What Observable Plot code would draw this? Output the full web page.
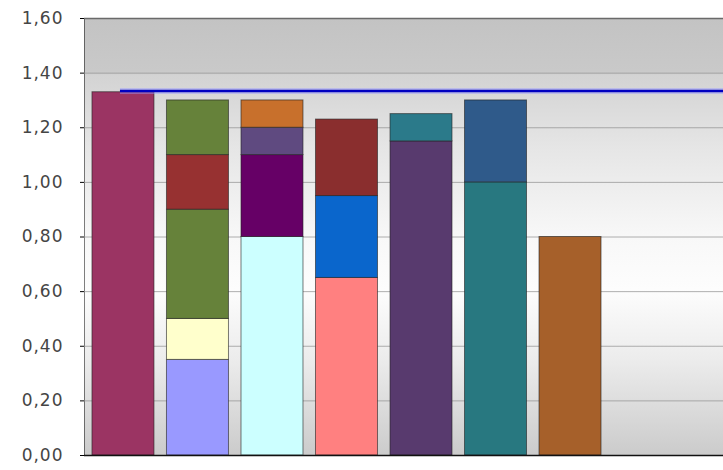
<!DOCTYPE html>
<html><head><meta charset="utf-8">
<script src="https://cdn.jsdelivr.net/npm/d3@7"></script>
<script src="https://cdn.jsdelivr.net/npm/@observablehq/plot@0.6"></script>
<style>
html,body{margin:0;padding:0;background:#fff;overflow:hidden}
</style>
</head><body><div id="chart"></div>
<script>
// categories (last two slots are empty, chart is cropped on the right)
const categories = ["A", "B", "C", "D", "E", "F", "G", "H", "I"];
// stacked segment values per bar (bottom to top)
const barA = [1.33];
const barB = [0.35, 0.15, 0.40, 0.20, 0.20];
const barC = [0.80, 0.30, 0.10, 0.10];
const barD = [0.65, 0.30, 0.28];
const barE = [1.15, 0.10];
const barF = [1.00, 0.30];
const barG = [0.80];
// segment colours per bar (bottom to top)
const colorsA = ["#9b3463"];
const colorsB = ["#9999ff", "#ffffcc", "#66823a", "#973131", "#66823a"];
const colorsC = ["#ccffff", "#660066", "#5f4a80", "#c8702c"];
const colorsD = ["#ff8080", "#0a66cc", "#8a2e2e"];
const colorsE = ["#583a6e", "#2b7a8a"];
const colorsF = ["#287880", "#2f5a8a"];
const colorsG = ["#a6602a"];
// reference line value
const targetValue = 1.335;
// y tick labels
const yTicks = [0, 0.2, 0.4, 0.6, 0.8, 1.0, 1.2, 1.4, 1.6];

const bars = [barA, barB, barC, barD, barE, barF, barG];
const colors = [colorsA, colorsB, colorsC, colorsD, colorsE, colorsF, colorsG];
const rows = [];
bars.forEach((vals, i) => vals.forEach((v, j) => rows.push({category: categories[i], value: v, color: colors[i][j]})));

const fmt = d => d3.format(".2f")(d).replace(".", ",");

const chart = Plot.plot({
  width: 723, height: 470,
  marginLeft: 84, marginRight: 0, marginTop: 18, marginBottom: 15,
  style: {fontFamily: "'DejaVu Sans', sans-serif", background: "transparent", overflow: "visible"},
  x: {domain: categories, range: [84, 758], paddingInner: 0.168, paddingOuter: 0.107, round: false, axis: null},
  y: {domain: [0, 1.6], ticks: yTicks, tickFormat: () => "", tickSize: 4, label: null, line: true},
  color: {type: "identity"},
  marks: [
    Plot.frame({fill: "url(#bg)", stroke: null}),
    Plot.ruleY(yTicks, {stroke: "#8f8f8f", strokeOpacity: 0.7}),
    Plot.ruleY([1.6], {stroke: "#6a6a6a", strokeWidth: 1.5}),
    Plot.barY(rows, {x: "category", y: "value", fill: "color", stroke: "#222", strokeWidth: 1, strokeOpacity: 0.6}),
    Plot.ruleY([targetValue], {x1: () => categories[0], x2: () => categories[categories.length - 1], dx: 28, stroke: "#9999ff", strokeWidth: 6, strokeOpacity: 0.45}),
    Plot.ruleY([targetValue], {x1: () => categories[0], x2: () => categories[categories.length - 1], dx: 28, stroke: "#0000c0", strokeWidth: 2.5}),
    Plot.ruleY([0], {stroke: "#111", strokeWidth: 1.5}),
    Plot.text(yTicks, {y: d => d, text: fmt, frameAnchor: "left", textAnchor: "end", dx: -21, fontSize: 17, fill: "#454545", className: "ylabels"})
  ]
});

const defs = d3.select(chart).insert("defs", ":first-child");
const g = defs.append("linearGradient").attr("id", "bg").attr("x1", 0).attr("y1", 0).attr("x2", 0).attr("y2", 1);
[[0, "#c3c3c3"], [0.12, "#c9c9c9"], [0.13, "#d3d3d3"], [0.3, "#e6e6e6"], [0.5, "#f8f8f8"], [0.62, "#fdfdfd"], [0.78, "#ececec"], [1, "#cbcbcb"]]
  .forEach(([o, c]) => g.append("stop").attr("offset", o).attr("stop-color", c));

d3.select(chart).selectAll(".ylabels text").attr("letter-spacing", "1px");
document.getElementById("chart").appendChild(chart);
</script>
</body></html>
